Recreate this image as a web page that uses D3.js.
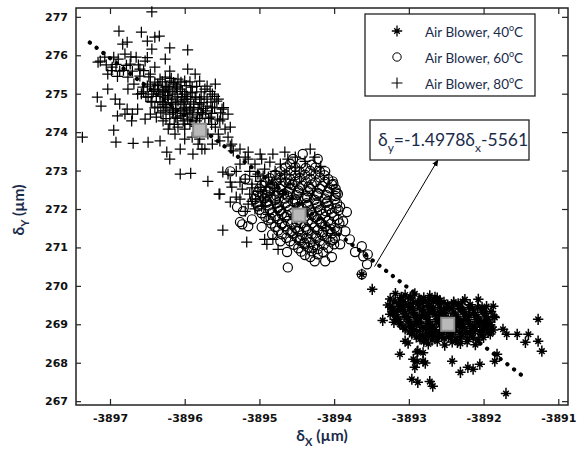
<!DOCTYPE html>
<html><head><meta charset="utf-8">
<script src="https://cdn.jsdelivr.net/npm/d3@7"></script>
<style>html,body{margin:0;padding:0;background:#fff}</style>
</head><body><svg id="c" width="578" height="456"></svg>
<script>
// ---------- data ----------
const xTicks = [-3897, -3896, -3895, -3894, -3893, -3892, -3891];
const yTicks = [267, 268, 269, 270, 271, 272, 273, 274, 275, 276, 277];
const seriesLabels = ["Air Blower, 40", "Air Blower, 60", "Air Blower, 80"];
const fitSlope = -1.4978;
const fitIntercept = -5561;
const fitRange = [-3897.27, -3891.48];
const arrowFrom = [-3893.46, 270.50];
const arrowTo = [-3892.61, 273.28];
const centers = [[-3892.48, 269.00], [-3894.47, 271.84], [-3895.80, 274.05]];

const air40 = [
[-3893.18,269.80],[-3893.05,269.76],[-3892.92,269.79],[-3892.72,269.74],
[-3893.25,269.66],[-3893.12,269.63],[-3892.98,269.67],[-3892.85,269.62],[-3892.72,269.65],[-3892.58,269.61],[-3892.25,269.64],
[-3893.28,269.50],[-3893.14,269.54],[-3893.01,269.51],[-3892.88,269.53],[-3892.74,269.49],[-3892.61,269.55],[-3892.48,269.50],[-3892.34,269.53],[-3892.18,269.51],
[-3893.22,269.40],[-3893.09,269.37],[-3892.96,269.41],[-3892.82,269.38],[-3892.69,269.40],[-3892.56,269.36],[-3892.42,269.41],[-3892.29,269.38],[-3892.15,269.40],[-3892.02,269.37],
[-3893.18,269.25],[-3893.05,269.28],[-3892.92,269.24],[-3892.78,269.27],[-3892.65,269.25],[-3892.52,269.28],[-3892.38,269.24],[-3892.25,269.27],[-3892.11,269.25],[-3891.98,269.28],
[-3893.14,269.14],[-3893.01,269.11],[-3892.88,269.15],[-3892.74,269.12],[-3892.61,269.14],[-3892.48,269.11],[-3892.34,269.15],[-3892.21,269.12],[-3892.07,269.14],[-3891.94,269.11],
[-3893.12,269.01],[-3892.98,268.98],[-3892.85,269.02],[-3892.72,268.99],[-3892.58,269.01],[-3892.45,268.98],[-3892.31,269.02],[-3892.18,268.99],[-3892.05,269.01],[-3891.91,268.98],
[-3893.05,268.88],[-3892.92,268.85],[-3892.78,268.89],[-3892.65,268.86],[-3892.52,268.88],[-3892.38,268.85],[-3892.25,268.89],[-3892.11,268.86],[-3891.98,268.88],[-3891.87,268.85],
[-3892.96,268.75],[-3892.82,268.72],[-3892.69,268.76],[-3892.56,268.73],[-3892.42,268.75],[-3892.29,268.72],[-3892.15,268.76],[-3892.02,268.73],[-3891.91,268.75],
[-3892.85,268.62],[-3892.69,268.59],[-3892.53,268.63],[-3892.37,268.60],[-3892.21,268.62],[-3892.07,268.59],
[-3892.74,268.49],[-3892.52,268.46],[-3892.31,268.50],[-3892.11,268.47],
[-3893.10,269.70],[-3892.98,269.71],[-3892.80,269.69],[-3892.65,269.70],
[-3893.20,269.58],[-3893.07,269.59],[-3892.94,269.57],[-3892.80,269.58],[-3892.67,269.59],[-3892.53,269.57],[-3892.40,269.58],[-3892.28,269.59],
[-3893.25,269.45],[-3893.12,269.46],[-3892.99,269.44],[-3892.86,269.45],[-3892.73,269.46],[-3892.59,269.44],[-3892.46,269.45],[-3892.33,269.46],[-3892.20,269.44],[-3892.08,269.45],[-3891.96,269.46],
[-3893.20,269.32],[-3893.07,269.33],[-3892.94,269.31],[-3892.80,269.32],[-3892.67,269.33],[-3892.54,269.31],[-3892.40,269.32],[-3892.27,269.33],[-3892.13,269.31],[-3892.00,269.32],[-3891.90,269.33],
[-3893.16,269.19],[-3893.03,269.20],[-3892.90,269.18],[-3892.77,269.19],[-3892.63,269.20],[-3892.50,269.18],[-3892.37,269.19],[-3892.23,269.20],[-3892.10,269.18],[-3891.97,269.19],[-3891.86,269.20],
[-3893.13,269.06],[-3893.00,269.07],[-3892.87,269.05],[-3892.74,269.06],[-3892.60,269.07],[-3892.47,269.05],[-3892.33,269.06],[-3892.20,269.07],[-3892.06,269.05],[-3891.93,269.06],
[-3893.08,268.93],[-3892.95,268.94],[-3892.81,268.92],[-3892.68,268.93],[-3892.55,268.94],[-3892.41,268.92],[-3892.28,268.93],[-3892.14,268.94],[-3892.01,268.92],[-3891.89,268.93],
[-3892.99,268.80],[-3892.86,268.81],[-3892.72,268.79],[-3892.59,268.80],[-3892.46,268.81],[-3892.32,268.79],[-3892.19,268.80],[-3892.05,268.81],[-3891.94,268.79],
[-3892.90,268.67],[-3892.76,268.68],[-3892.62,268.66],[-3892.47,268.67],[-3892.30,268.68],[-3892.14,268.66],
[-3892.80,268.55],[-3892.62,268.56],[-3892.42,268.54],[-3892.22,268.55],
[-3892.95,269.35],[-3892.83,269.22],[-3892.70,269.45],[-3892.57,269.30],[-3892.44,269.16],[-3892.31,269.42],[-3892.19,269.23],
[-3892.06,269.09],[-3892.90,269.03],[-3892.76,268.91],[-3892.63,269.08],[-3892.50,268.83],[-3892.37,268.97],[-3892.24,268.78],
[-3892.12,268.95],[-3891.99,269.03],[-3893.03,269.17],[-3893.10,269.48],[-3892.86,269.60],[-3892.62,269.68],[-3892.50,269.40],
[-3892.40,269.55],[-3892.27,269.10],[-3892.15,268.83],[-3892.67,268.72],[-3892.80,268.60],[-3892.43,268.66],[-3892.35,268.53],
[-3892.00,268.66],[-3891.95,268.95],[-3893.15,269.38],[-3893.20,269.05],[-3892.97,268.95],[-3892.58,269.20],[-3892.72,269.30],
[-3893.49,269.91],[-3893.35,269.10],[-3893.22,269.34],[-3893.12,268.22],[-3892.94,268.09],[-3892.88,268.30],
[-3892.81,268.04],[-3892.92,267.88],[-3892.96,267.57],[-3892.88,267.49],[-3892.72,267.51],[-3892.68,267.39],
[-3892.42,268.04],[-3892.31,267.75],[-3892.21,267.88],[-3892.14,267.83],[-3892.05,267.96],[-3891.85,268.04],
[-3891.82,268.22],[-3891.69,268.74],[-3891.55,268.74],[-3891.44,268.53],[-3891.40,268.74],[-3891.27,269.13],
[-3891.27,268.56],[-3891.22,268.30],[-3891.70,267.20],[-3892.07,269.65],[-3891.87,269.47],[-3891.74,268.87],
[-3892.02,269.44],[-3891.85,269.18],[-3893.63,270.30],[-3893.25,269.26],[-3893.18,269.13],[-3893.05,268.56],
[-3893.01,268.51],[-3892.89,268.28],[-3892.81,268.26],[-3892.78,267.99],[-3892.89,268.03]
];

const air60 = [
[-3894.59,273.17],[-3894.44,273.19],[-3894.30,273.15],
[-3894.72,272.98],[-3894.58,273.00],[-3894.46,272.96],[-3894.32,272.99],[-3894.19,272.97],
[-3894.86,272.80],[-3894.72,272.82],[-3894.59,272.78],[-3894.46,272.81],[-3894.32,272.79],[-3894.19,272.82],[-3894.08,272.78],
[-3894.97,272.62],[-3894.83,272.64],[-3894.70,272.60],[-3894.56,272.63],[-3894.43,272.61],[-3894.30,272.64],[-3894.16,272.60],[-3894.03,272.63],
[-3895.02,272.44],[-3894.88,272.46],[-3894.75,272.42],[-3894.62,272.45],[-3894.48,272.43],[-3894.35,272.46],[-3894.22,272.42],[-3894.08,272.45],[-3893.97,272.43],
[-3895.06,272.26],[-3894.93,272.28],[-3894.79,272.24],[-3894.66,272.27],[-3894.52,272.25],[-3894.39,272.28],[-3894.26,272.24],[-3894.12,272.27],[-3893.99,272.25],
[-3895.02,272.07],[-3894.88,272.09],[-3894.75,272.05],[-3894.62,272.08],[-3894.48,272.06],[-3894.35,272.09],[-3894.22,272.05],[-3894.08,272.08],[-3893.92,272.06],
[-3894.97,271.89],[-3894.83,271.91],[-3894.70,271.87],[-3894.56,271.90],[-3894.43,271.88],[-3894.30,271.91],[-3894.16,271.87],[-3894.03,271.90],
[-3894.88,271.71],[-3894.75,271.73],[-3894.62,271.69],[-3894.48,271.72],[-3894.35,271.70],[-3894.22,271.73],[-3894.08,271.69],[-3893.95,271.72],
[-3894.79,271.53],[-3894.66,271.55],[-3894.52,271.51],[-3894.39,271.54],[-3894.26,271.52],[-3894.12,271.55],[-3893.99,271.51],
[-3894.70,271.34],[-3894.56,271.36],[-3894.43,271.32],[-3894.30,271.35],[-3894.16,271.33],[-3894.03,271.36],
[-3894.59,271.16],[-3894.46,271.18],[-3894.32,271.14],[-3894.19,271.17],[-3894.05,271.15],
[-3894.48,270.98],[-3894.35,271.00],[-3894.22,270.96],[-3894.08,270.99],
[-3894.39,270.80],[-3894.22,270.82],
[-3894.65,273.08],[-3894.52,273.09],[-3894.38,273.07],[-3894.25,273.08],
[-3894.79,272.89],[-3894.65,272.90],[-3894.52,272.88],[-3894.39,272.89],[-3894.25,272.90],[-3894.13,272.88],
[-3894.92,272.71],[-3894.78,272.72],[-3894.65,272.70],[-3894.52,272.71],[-3894.38,272.72],[-3894.25,272.70],[-3894.12,272.71],[-3894.02,272.72],
[-3895.00,272.53],[-3894.86,272.54],[-3894.72,272.52],[-3894.59,272.53],[-3894.46,272.54],[-3894.32,272.52],[-3894.19,272.53],[-3894.06,272.54],[-3893.98,272.52],
[-3895.04,272.35],[-3894.90,272.36],[-3894.77,272.34],[-3894.63,272.35],[-3894.50,272.36],[-3894.37,272.34],[-3894.23,272.35],[-3894.10,272.36],[-3893.98,272.34],
[-3895.04,272.16],[-3894.90,272.17],[-3894.77,272.15],[-3894.64,272.16],[-3894.50,272.17],[-3894.37,272.15],[-3894.24,272.16],[-3894.10,272.17],[-3893.96,272.15],
[-3895.00,271.98],[-3894.86,271.99],[-3894.72,271.97],[-3894.59,271.98],[-3894.46,271.99],[-3894.32,271.97],[-3894.19,271.98],[-3894.06,271.99],[-3893.94,271.97],
[-3894.92,271.80],[-3894.79,271.81],[-3894.66,271.79],[-3894.52,271.80],[-3894.39,271.81],[-3894.26,271.79],[-3894.12,271.80],[-3894.00,271.81],
[-3894.84,271.62],[-3894.70,271.63],[-3894.57,271.61],[-3894.44,271.62],[-3894.30,271.63],[-3894.17,271.61],[-3894.04,271.62],[-3893.93,271.63],
[-3894.75,271.44],[-3894.62,271.45],[-3894.48,271.43],[-3894.35,271.44],[-3894.22,271.45],[-3894.08,271.43],[-3893.96,271.44],
[-3894.64,271.25],[-3894.50,271.26],[-3894.37,271.24],[-3894.24,271.25],[-3894.10,271.26],[-3893.99,271.24],
[-3894.54,271.07],[-3894.40,271.08],[-3894.27,271.06],[-3894.14,271.07],[-3894.00,271.08],
[-3894.44,270.89],[-3894.30,270.90],[-3894.15,270.88],
[-3894.80,272.58],[-3894.67,272.40],[-3894.55,272.20],[-3894.43,272.02],[-3894.30,271.84],[-3894.18,271.66],[-3894.05,271.48],
[-3894.90,272.20],[-3894.76,272.02],[-3894.63,271.84],[-3894.50,271.66],[-3894.37,271.48],[-3894.24,271.30],[-3894.70,271.60],
[-3894.57,271.42],[-3894.45,271.24],[-3894.34,272.58],[-3894.21,272.40],[-3894.09,272.20],[-3893.97,272.02],[-3894.60,272.66],
[-3894.48,272.48],[-3894.36,272.30],[-3894.23,272.12],[-3894.11,271.94],[-3894.85,271.75],[-3894.73,271.95],[-3894.96,272.38],
[-3894.40,271.12],[-3894.28,271.00],[-3894.15,271.40],[-3894.02,271.20],
[-3895.23,271.60],[-3895.15,271.55],[-3894.63,270.88],[-3894.62,270.48],[-3895.39,272.98],[-3895.19,272.78],
[-3895.30,272.05],[-3895.22,271.94],[-3895.26,271.66],[-3893.83,271.92],[-3893.88,271.68],[-3893.72,270.88],
[-3893.61,270.77],[-3893.56,270.56],[-3893.63,270.30],[-3893.63,271.03],[-3893.55,270.82],[-3894.42,273.43],
[-3894.55,273.30],[-3893.79,271.21],[-3893.85,271.42],[-3893.92,271.08],[-3894.03,270.75],[-3894.12,270.64],
[-3894.26,270.64],[-3894.32,270.75],[-3893.95,272.39],[-3894.01,272.65],[-3894.12,272.98],[-3894.22,273.30],
[-3894.72,271.16],[-3894.83,271.34],[-3894.97,271.53],[-3895.10,271.73]
];

const air80 = [
[-3896.44,277.13],[-3896.88,276.63],[-3896.58,276.60],[-3896.34,276.50],[-3896.40,276.47],[-3895.96,276.14],
[-3896.20,276.19],[-3896.77,276.34],[-3896.83,276.29],[-3896.50,276.37],[-3897.13,275.85],[-3897.17,274.91],
[-3897.12,274.68],[-3897.03,275.12],[-3897.37,273.87],[-3896.95,274.05],[-3896.92,273.74],[-3896.69,273.71],
[-3896.49,273.74],[-3896.90,274.42],[-3896.77,274.60],[-3896.70,274.47],[-3896.33,273.77],[-3896.24,273.48],
[-3896.20,273.30],[-3896.06,272.91],[-3895.92,272.93],[-3895.69,272.72],[-3895.54,272.39],[-3896.06,273.56],
[-3895.89,273.43],[-3895.77,273.56],[-3895.57,274.81],[-3895.49,274.34],[-3895.39,274.13],[-3895.80,274.86],
[-3895.70,274.68],[-3895.39,273.64],[-3895.35,273.51],[-3895.15,273.48],[-3894.99,273.43],[-3894.82,273.43],
[-3894.66,273.48],[-3895.49,272.96],[-3895.39,272.70],[-3895.49,271.45],[-3895.17,271.14],[-3894.93,271.21],
[-3894.90,271.08],[-3894.82,271.21],[-3894.75,270.95],[-3895.53,272.39],[-3895.39,272.18],[-3894.32,273.56],
[-3894.26,273.35],[-3894.18,273.11],
[-3897.16,275.82],[-3897.07,275.95],[-3896.97,275.69],[-3897.03,275.51],[-3896.89,275.90],[-3896.80,276.03],
[-3896.87,275.59],[-3896.73,275.77],[-3896.76,275.43],[-3896.65,275.95],[-3896.60,275.64],[-3896.68,275.25],
[-3896.53,275.85],[-3896.46,275.51],[-3896.56,275.17],[-3896.40,275.69],[-3896.33,275.38],[-3896.44,276.16],
[-3896.26,275.90],[-3896.20,275.59],[-3896.30,275.07],[-3896.13,275.25],[-3896.22,274.86],[-3896.36,274.65],
[-3896.49,274.91],[-3896.63,274.99],[-3896.76,275.12],[-3896.87,274.73],[-3896.93,274.86],[-3896.80,274.47],
[-3896.63,274.60],[-3896.53,274.34],[-3896.71,274.29],[-3896.46,274.47],
[-3896.46,275.25],[-3896.40,275.12],[-3896.33,274.99],[-3896.26,275.17],[-3896.20,275.07],[-3896.13,274.99],
[-3896.06,275.12],[-3896.00,274.99],[-3896.17,274.86],[-3896.09,274.81],[-3896.02,274.73],[-3895.96,274.86],
[-3895.93,274.65],[-3895.86,274.91],[-3895.90,275.17],[-3896.00,275.33],[-3896.09,275.38],[-3896.26,275.43],
[-3896.36,275.25],[-3896.33,274.78],[-3896.24,274.65],[-3896.16,274.60],[-3896.06,274.55],[-3895.97,274.47],
[-3895.89,274.39],[-3895.82,274.60],[-3895.80,274.73],[-3895.76,274.47],[-3895.84,274.29],[-3895.93,274.21],
[-3896.02,274.29],[-3896.12,274.39],[-3896.20,274.47],[-3896.29,274.55],[-3896.38,274.39],[-3896.29,274.29],
[-3896.20,274.21],[-3896.09,274.13],[-3896.00,274.08],[-3895.73,274.21],[-3895.66,274.39],[-3895.63,274.65],
[-3895.70,274.86],[-3895.59,274.13],[-3895.53,274.29],[-3895.46,274.08],[-3895.55,273.95],[-3895.69,273.95],
[-3895.80,273.82],[-3895.90,273.87],[-3896.00,273.82],[-3896.13,273.95],[-3896.22,274.08],[-3895.63,273.69],
[-3895.53,273.77],[-3895.42,273.87],[-3895.37,273.69],[-3895.73,273.56],[-3895.82,273.69],[-3895.26,273.56],
[-3895.19,273.35],[-3895.96,275.64],[-3895.86,275.51],[-3895.80,275.33],[-3895.73,275.12],[-3895.63,274.99],
[-3895.55,274.86],[-3895.50,274.60],[-3895.42,274.47],[-3895.59,275.25],
[-3896.44,274.99],[-3896.22,275.12],[-3896.04,274.91],[-3896.12,274.73],[-3895.98,274.60],[-3895.88,274.73],[-3896.20,275.33],
[-3896.40,275.30],[-3896.30,275.31],[-3896.15,275.29],[-3896.05,275.30],[-3895.93,275.31],
[-3896.50,275.20],[-3896.36,275.21],[-3896.24,275.19],[-3896.10,275.20],[-3895.98,275.21],[-3895.84,275.19],[-3895.70,275.20],
[-3896.55,275.05],[-3896.42,275.06],[-3896.28,275.04],[-3896.16,275.05],[-3896.03,275.06],[-3895.92,275.04],[-3895.78,275.05],[-3895.66,275.06],
[-3896.52,274.92],[-3896.38,274.93],[-3896.26,274.91],[-3896.10,274.92],[-3895.98,274.93],[-3895.85,274.91],[-3895.74,274.92],[-3895.60,274.93],
[-3896.44,274.78],[-3896.30,274.79],[-3896.18,274.77],[-3896.05,274.78],[-3895.92,274.79],[-3895.78,274.77],[-3895.65,274.78],
[-3896.40,274.63],[-3896.26,274.64],[-3896.12,274.62],[-3896.00,274.63],[-3895.88,274.64],[-3895.75,274.62],[-3895.60,274.63],[-3895.48,274.64],
[-3896.32,274.50],[-3896.16,274.51],[-3896.02,274.49],[-3895.90,274.50],[-3895.78,274.51],[-3895.64,274.49],[-3895.52,274.50],
[-3896.25,274.35],[-3896.10,274.36],[-3895.96,274.34],[-3895.80,274.35],[-3895.68,274.36],[-3895.56,274.34],
[-3896.14,274.20],[-3896.00,274.21],[-3895.86,274.19],[-3895.64,274.20],
[-3896.35,275.10],[-3896.23,274.95],[-3896.11,275.15],[-3896.00,274.85],[-3895.90,275.02],[-3896.28,274.72],[-3896.15,274.55],
[-3896.05,274.42],[-3895.93,274.55],[-3895.83,274.45],[-3896.45,274.80],[-3896.58,275.00],[-3896.18,275.40],[-3895.72,274.55],[-3895.85,274.15],
[-3897.05,275.75],[-3896.92,275.76],[-3896.78,275.74],[-3896.62,275.75],
[-3896.98,275.60],[-3896.82,275.61],[-3896.70,275.59],[-3896.55,275.60],
[-3896.95,275.95],[-3896.72,275.96],[-3896.50,275.94],
[-3896.90,275.45],[-3896.60,275.46],[-3896.48,275.44],
[-3895.26,273.17],[-3895.15,273.30],[-3895.06,273.17],[-3894.97,273.30],[-3894.86,273.22],[-3895.13,272.98],
[-3895.02,272.91],[-3894.93,273.04],[-3895.19,272.78],[-3895.10,272.65],[-3894.99,272.72],[-3894.88,272.83],
[-3894.79,272.98],[-3894.72,273.17],[-3894.62,273.30],[-3895.23,272.52],[-3895.13,272.39],[-3895.02,272.46],
[-3894.91,272.57],[-3894.83,272.65],[-3894.72,272.78],[-3894.66,272.91],[-3895.26,272.26],[-3895.15,272.13],
[-3895.05,272.26],[-3894.95,272.31],[-3894.86,272.39],[-3894.75,272.46],[-3895.19,271.94],[-3895.06,272.00],
[-3894.97,272.07],[-3895.37,272.57],[-3895.31,272.31],[-3895.42,272.91],[-3895.31,272.98],[-3894.52,273.09],
[-3894.46,272.91],[-3894.59,272.65],[-3894.68,272.39],[-3894.79,272.18],[-3894.88,271.86],[-3894.52,273.35],
[-3894.39,273.24],[-3895.05,272.85],[-3894.95,272.86],[-3895.10,272.55],[-3894.98,272.56],[-3894.80,272.54],
[-3895.10,272.20],[-3894.92,272.21],[-3895.26,272.70]
];

// ---------- chart ----------
const svg = d3.select("#c");
const M = {l: 76, t: 8, r: 568, b: 405};
const x = d3.scaleLinear().domain([-3897.455, -3890.87]).range([M.l, M.r]);
const y = d3.scaleLinear().domain([266.9, 277.23]).range([M.b, M.t]);
const ink = "#1a2b4a";

function styleAxis(g) {
  g.select(".domain").remove();
  g.selectAll(".tick line").attr("stroke", "#222").attr("stroke-width", 1.2);
  g.selectAll(".tick text").attr("font-family", "'DejaVu Sans', Verdana, sans-serif")
    .attr("font-weight", "bold").attr("font-size", 11).attr("fill", "#111");
}
svg.append("g").attr("transform", `translate(0,${M.b})`)
  .call(d3.axisBottom(x).tickValues(xTicks).tickSize(-6).tickPadding(9).tickFormat(d => String(d)))
  .call(styleAxis);
svg.append("g").attr("transform", `translate(0,${M.t})`)
  .call(d3.axisTop(x).tickValues(xTicks).tickSize(-6).tickFormat(""))
  .call(styleAxis);
svg.append("g").attr("transform", `translate(${M.l},0)`)
  .call(d3.axisLeft(y).tickValues(yTicks).tickSize(-5).tickPadding(8).tickFormat(d => String(d)))
  .call(styleAxis);
svg.append("g").attr("transform", `translate(${M.r},0)`)
  .call(d3.axisRight(y).tickValues(yTicks).tickSize(-6).tickFormat(""))
  .call(styleAxis);

svg.append("rect").attr("x", M.l).attr("y", M.t).attr("width", M.r - M.l).attr("height", M.b - M.t)
  .attr("fill", "none").attr("stroke", "#222").attr("stroke-width", 1.5);

const plusPath = "M-5.5,0H5.5M0,-5.5V5.5";
const starPath = "M-5.2,0H5.2M0,-5.6V5.6M-2.8,-2.8L2.8,2.8M-2.8,2.8L2.8,-2.8";

const gp = svg.append("g");
gp.selectAll("path.p80").data(air80).join("path").attr("class", "p80")
  .attr("transform", d => `translate(${x(d[0])},${y(d[1])})`)
  .attr("d", plusPath).attr("stroke", "#000").attr("stroke-width", 1.25).attr("fill", "none");
gp.selectAll("circle.p60").data(air60).join("circle").attr("class", "p60")
  .attr("cx", d => x(d[0])).attr("cy", d => y(d[1])).attr("r", 4.6)
  .attr("stroke", "#000").attr("stroke-width", 1.2).attr("fill", "none");
gp.selectAll("path.p40").data(air40).join("path").attr("class", "p40")
  .attr("transform", d => `translate(${x(d[0])},${y(d[1])})`)
  .attr("d", starPath).attr("stroke", "#000").attr("stroke-width", 1.5).attr("fill", "none");
gp.selectAll("circle.c40").data(air40).join("circle").attr("class", "c40")
  .attr("cx", d => x(d[0])).attr("cy", d => y(d[1])).attr("r", 1.8).attr("fill", "#000");

// fit line
svg.append("line")
  .attr("x1", x(fitRange[0])).attr("y1", y(fitSlope * fitRange[0] + fitIntercept))
  .attr("x2", x(fitRange[1])).attr("y2", y(fitSlope * fitRange[1] + fitIntercept))
  .attr("stroke", "#000").attr("stroke-width", 4.2).attr("stroke-linecap", "round")
  .attr("stroke-dasharray", "0.1 8.4");

// centers
svg.selectAll("rect.ctr").data(centers).join("rect").attr("class", "ctr")
  .attr("x", d => x(d[0]) - 6.5).attr("y", d => y(d[1]) - 6.5).attr("width", 13).attr("height", 13)
  .attr("fill", "#b9b9b9").attr("stroke", "#8c8c8c").attr("stroke-width", 2);

// arrow
const defs = svg.append("defs");
defs.append("marker").attr("id", "ah").attr("viewBox", "0 0 10 10").attr("refX", 9).attr("refY", 5)
  .attr("markerWidth", 7).attr("markerHeight", 7).attr("orient", "auto")
  .append("path").attr("d", "M0,1L10,5L0,9z").attr("fill", "#000");
svg.append("line")
  .attr("x1", x(arrowFrom[0])).attr("y1", y(arrowFrom[1]))
  .attr("x2", x(arrowTo[0])).attr("y2", y(arrowTo[1]))
  .attr("stroke", "#000").attr("stroke-width", 1).attr("marker-end", "url(#ah)");

// equation box
svg.append("rect").attr("x", 370).attr("y", 120).attr("width", 159).attr("height", 40)
  .attr("fill", "#fff").attr("stroke", "#222").attr("stroke-width", 1.3);
const eq = svg.append("text").attr("x", 378).attr("y", 146)
  .attr("font-family", "Lato, 'Open Sans', sans-serif").attr("font-size", 17.5).attr("fill", ink);
eq.append("tspan").text("δ");
eq.append("tspan").attr("dy", 6).attr("font-size", 12).text("y");
eq.append("tspan").attr("dy", -6).text("=-1.4978δ");
eq.append("tspan").attr("dy", 6).attr("font-size", 12).text("x");
eq.append("tspan").attr("dy", -6).text("-5561");

// legend
svg.append("rect").attr("x", 365).attr("y", 14).attr("width", 170).attr("height", 82)
  .attr("fill", "#fff").attr("stroke", "#222").attr("stroke-width", 1.3);
const legY = [32, 58, 84];
const lg = svg.append("g");
lg.append("path").attr("transform", `translate(397,${legY[0] - 1})`).attr("d", starPath)
  .attr("stroke", "#000").attr("stroke-width", 1.3).attr("fill", "none");
lg.append("circle").attr("cx", 397).attr("cy", legY[0] - 1).attr("r", 1.6).attr("fill", "#000");
lg.append("circle").attr("cx", 397).attr("cy", legY[1] - 1).attr("r", 4.2)
  .attr("stroke", "#000").attr("stroke-width", 1).attr("fill", "none");
lg.append("path").attr("transform", `translate(397,${legY[2] - 1})`).attr("d", plusPath)
  .attr("stroke", "#000").attr("stroke-width", 1.1).attr("fill", "none");
seriesLabels.forEach((s, i) => {
  const t = lg.append("text").attr("x", 425).attr("y", legY[i] + 5)
    .attr("font-family", "Lato, 'Open Sans', sans-serif").attr("font-size", 13.5).attr("fill", ink);
  t.append("tspan").text(s);
  t.append("tspan").attr("dy", -6).attr("font-size", 9).text("o");
  t.append("tspan").attr("dy", 6).text("C");
});

// axis titles
const xt = svg.append("text").attr("x", 322).attr("y", 441).attr("text-anchor", "middle")
  .attr("font-family", "Lato, 'Open Sans', sans-serif").attr("font-weight", "bold")
  .attr("font-size", 15.5).attr("fill", ink);
xt.append("tspan").text("δ");
xt.append("tspan").attr("dy", 5).attr("font-size", 11).text("X");
xt.append("tspan").attr("dy", -5).text(" (µm)");

const yt = svg.append("text").attr("transform", "translate(24,210) rotate(-90)").attr("text-anchor", "middle")
  .attr("font-family", "Lato, 'Open Sans', sans-serif").attr("font-weight", "bold")
  .attr("font-size", 15.5).attr("fill", ink);
yt.append("tspan").text("δ");
yt.append("tspan").attr("dy", 5).attr("font-size", 11).text("Y");
yt.append("tspan").attr("dy", -5).text(" (µm)");
</script>
</body></html>
